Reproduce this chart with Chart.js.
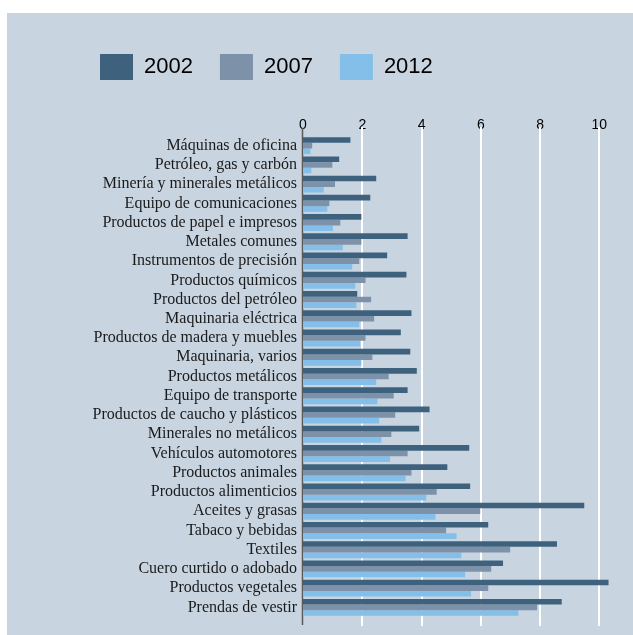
<!DOCTYPE html>
<html>
<head>
<meta charset="utf-8">
<script src="https://cdn.jsdelivr.net/npm/chart.js@4"></script>
<style>
  body { margin: 0; background: #ffffff; }
  #wrap { position: absolute; left: 7px; top: 13px; width: 626px; height: 622px; background: #c8d4e0; }
</style>
</head>
<body>
<div id="wrap"><canvas id="myChart" width="626" height="622"></canvas></div>
<script>
// categorias (de arriba hacia abajo)
const categories = [
  'Máquinas de oficina', 'Petróleo, gas y carbón', 'Minería y minerales metálicos',
  'Equipo de comunicaciones', 'Productos de papel e impresos', 'Metales comunes',
  'Instrumentos de precisión', 'Productos químicos', 'Productos del petróleo',
  'Maquinaria eléctrica', 'Productos de madera y muebles', 'Maquinaria, varios',
  'Productos metálicos', 'Equipo de transporte', 'Productos de caucho y plásticos',
  'Minerales no metálicos', 'Vehículos automotores', 'Productos animales',
  'Productos alimenticios', 'Aceites y grasas', 'Tabaco y bebidas', 'Textiles',
  'Cuero curtido o adobado', 'Productos vegetales', 'Prendas de vestir'
];
const years = ['2002', '2007', '2012'];
const v2002 = [1.60, 1.22, 2.47, 2.27, 1.97, 3.53, 2.84, 3.49, 1.83, 3.66, 3.30, 3.62, 3.84, 3.53, 4.27, 3.92, 5.61, 4.87, 5.64, 9.49, 6.25, 8.57, 6.75, 10.31, 8.73];
const v2007 = [0.31, 0.99, 1.08, 0.89, 1.26, 1.97, 1.90, 2.11, 2.30, 2.40, 2.11, 2.34, 2.89, 3.06, 3.11, 2.98, 3.53, 3.66, 4.51, 5.98, 4.83, 6.99, 6.35, 6.25, 7.90];
const v2012 = [0.25, 0.28, 0.70, 0.82, 1.01, 1.34, 1.66, 1.76, 1.80, 1.90, 1.93, 1.97, 2.47, 2.51, 2.57, 2.65, 2.94, 3.46, 4.16, 4.47, 5.18, 5.34, 5.47, 5.67, 7.27];
const colors = ['#3e627d', '#7d92a8', '#84bfe9'];

// lineas de la cuadricula un poco mas largas que el area del grafico
const extendedGrid = {
  id: 'extendedGrid',
  beforeDatasetsDraw(chart) {
    const {ctx, chartArea, scales: {x}} = chart;
    ctx.save();
    ctx.strokeStyle = '#ffffff';
    ctx.lineWidth = 2;
    x.ticks.forEach(t => {
      if (t.value === 0) return;
      const px = Math.round(x.getPixelForValue(t.value));
      ctx.beginPath();
      ctx.moveTo(px, chartArea.top - 9);
      ctx.lineTo(px, chartArea.bottom + 9);
      ctx.stroke();
    });
    const p0 = x.getPixelForValue(0);
    ctx.strokeStyle = '#5a5a5a';
    ctx.lineWidth = 1.5;
    ctx.beginPath();
    ctx.moveTo(p0 - 0.5, chartArea.top - 8);
    ctx.lineTo(p0 - 0.5, chartArea.bottom + 8);
    ctx.stroke();
    ctx.restore();
  }
};

const ctx = document.getElementById('myChart').getContext('2d');
const myChart = new Chart(ctx, {
  type: 'bar',
  data: {
    labels: categories,
    datasets: [
      {label: years[0], data: v2002, backgroundColor: colors[0]},
      {label: years[1], data: v2007, backgroundColor: colors[1]},
      {label: years[2], data: v2012, backgroundColor: colors[2]}
    ]
  },
  options: {
    indexAxis: 'y',
    responsive: false,
    animation: false,
    devicePixelRatio: 1,
    categoryPercentage: 0.88,
    barPercentage: 1.0,
    layout: {
      padding: {top: 14, left: 66, right: 4, bottom: 18}
    },
    scales: {
      x: {
        position: 'top',
        min: 0,
        max: 11,
        grid: {display: false, drawTicks: false},
        border: {display: false},
        ticks: {
          stepSize: 2,
          includeBounds: false,
          padding: 2,
          color: '#000000',
          font: {family: 'Liberation Sans', size: 14}
        },
        afterFit: (scale) => { scale.height = 46; }
      },
      y: {
        grid: {display: false, drawTicks: false},
        border: {display: false},
        ticks: {
          autoSkip: false,
          padding: 6,
          color: '#1a1a1a',
          font: {family: 'Liberation Serif', size: 16}
        },
        afterFit: (scale) => { scale.width = 230; }
      }
    },
    plugins: {
      legend: {
        position: 'top',
        align: 'start',
        labels: {
          boxWidth: 33,
          boxHeight: 26,
          padding: 27,
          color: '#000000',
          font: {family: 'Liberation Sans', size: 22}
        }
      },
      tooltip: {enabled: false}
    }
  },
  plugins: [extendedGrid]
});
</script>
</body>
</html>
